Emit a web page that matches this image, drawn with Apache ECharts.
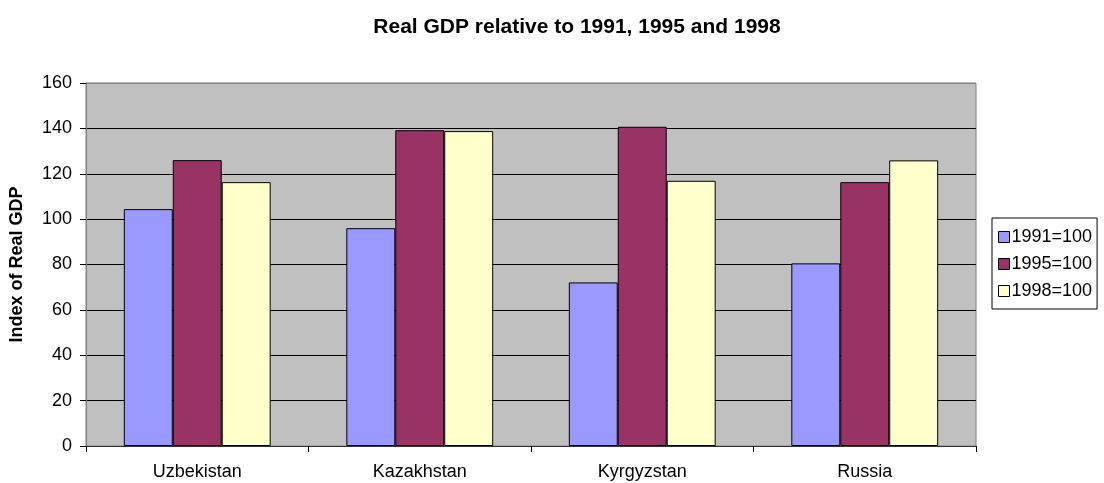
<!DOCTYPE html>
<html>
<head>
<meta charset="utf-8">
<script src="https://cdn.jsdelivr.net/npm/echarts@6/dist/echarts.min.js"></script>
<style>html,body{margin:0;padding:0;background:#fff;}#c{width:1104px;height:483px;}</style>
</head>
<body>
<div id="c"></div>
<script>
var categories = ['Uzbekistan', 'Kazakhstan', 'Kyrgyzstan', 'Russia'];
var s1991 = [104.4, 96, 72.1, 80.5];
var s1995 = [126, 139.2, 140.7, 116.3];
var s1998 = [116.3, 138.8, 116.9, 125.9];
var seriesNames = ['1991=100', '1995=100', '1998=100'];
var yTicks = [0, 20, 40, 60, 80, 100, 120, 140, 160];

var FONT = 'Arial, "Liberation Sans", sans-serif';
var chart = echarts.init(document.getElementById('c'), null, {renderer: 'canvas'});
var colors = ['#9999FF', '#993366', '#FFFFCC'];
var data = [s1991, s1995, s1998];
chart.setOption({
  animation: false,
  backgroundColor: '#ffffff',
  title: {
    text: 'Real GDP relative to 1991, 1995 and 1998',
    left: 572, top: 12, textAlign: 'center',
    textStyle: {fontFamily: FONT, fontSize: 21, fontWeight: 'bold', color: '#000'}
  },
  legend: {
    orient: 'vertical', left: 992, top: 218,
    padding: [10, 5, 9, 6],
    borderColor: '#000', borderWidth: 1, backgroundColor: '#fff',
    itemWidth: 11, itemHeight: 11, itemGap: 9,
    icon: 'rect',
    itemStyle: {borderColor: '#000', borderWidth: 1},
    textStyle: {fontFamily: FONT, fontSize: 18, color: '#000', padding: [0, 0, 0, -3]},
    data: seriesNames
  },
  grid: {left: 86, right: 128, top: 83, bottom: 37, show: true, backgroundColor: '#C0C0C0', borderWidth: 1, borderColor: '#808080'},
  xAxis: {
    type: 'category', data: categories,
    axisLine: {lineStyle: {color: '#333', width: 1}},
    axisTick: {show: true, length: 6, lineStyle: {color: '#000'}},
    axisLabel: {fontFamily: FONT, fontSize: 18, color: '#000', margin: 17},
    splitLine: {show: false}
  },
  yAxis: {
    type: 'value', min: yTicks[0], max: yTicks[yTicks.length - 1], interval: 20,
    name: 'Index of Real GDP', nameLocation: 'middle', nameGap: 60, nameRotate: 90,
    nameTextStyle: {fontFamily: FONT, fontSize: 18, fontWeight: 'bold', color: '#000'},
    axisLine: {show: true, lineStyle: {color: '#808080', width: 1}},
    axisTick: {show: true, length: 6, lineStyle: {color: '#000'}},
    axisLabel: {fontFamily: FONT, fontSize: 18, color: '#000', margin: 14},
    splitLine: {show: true, lineStyle: {color: ['#000', '#000', '#000', '#000', '#000', '#000', '#000', '#000', '#808080'], width: 1}}
  },
  series: seriesNames.map(function (n, i) {
    return {
      name: n, type: 'bar', data: data[i],
      barGap: '0%', barCategoryGap: '34%',
      itemStyle: {color: colors[i], borderColor: '#000', borderWidth: 1}
    };
  })
});
</script>
</body>
</html>
